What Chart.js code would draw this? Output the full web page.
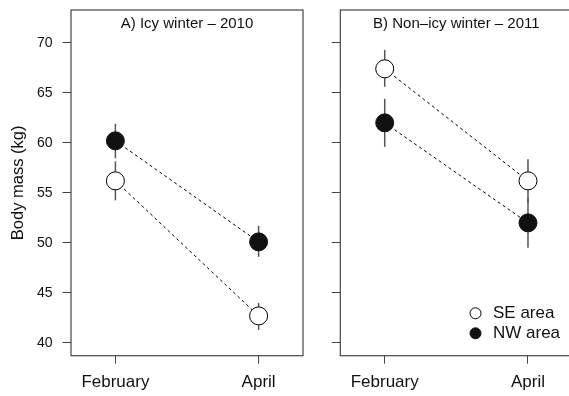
<!DOCTYPE html>
<html>
<head>
<meta charset="utf-8">
<script src="https://cdn.jsdelivr.net/npm/chart.js@4/dist/chart.umd.min.js"></script>
<style>
  html, body { margin: 0; padding: 0; background: #fff; width: 569px; height: 396px; overflow: hidden; }
  #wrapA { position: absolute; left: 0; top: 0; width: 320px; height: 396px; }
  #wrapB { position: absolute; left: 320px; top: 0; width: 280px; height: 396px; }
</style>
</head>
<body>
<div id="wrapA"><canvas id="chartA" width="320" height="396"></canvas></div>
<div id="wrapB"><canvas id="chartB" width="280" height="396"></canvas></div>
<script>
// ---- Data ----
const months = ['February', 'April'];
const yTicks = [40, 45, 50, 55, 60, 65, 70];
const panelTitles = ['A) Icy winter \u2013 2010', 'B) Non\u2013icy winter \u2013 2011'];
const seriesNames = ['SE area', 'NW area'];

// Panel A: Icy winter 2010
const seMean2010 = [56.2, 42.7];
const seLow2010  = [54.25, 41.3];
const seHigh2010 = [58.15, 44.0];
const nwMean2010 = [60.2, 50.1];
const nwLow2010  = [58.45, 48.6];
const nwHigh2010 = [61.9, 51.7];

// Panel B: Non-icy winter 2011
const seMean2011 = [67.4, 56.2];
const seLow2011  = [65.6, 54.0];
const seHigh2011 = [69.3, 58.35];
const nwMean2011 = [62.0, 52.0];
const nwLow2011  = [59.6, 49.5];
const nwHigh2011 = [64.4, 54.45];

const FONT = "'Liberation Sans', Arial, Helvetica, sans-serif";

function pts(arr) { return arr.map((v, i) => ({ x: i + 1, y: v })); }

function makeDatasets(seM, seL, seH, nwM, nwL, nwH) {
  return [
    { label: seriesNames[0], data: pts(seM), low: seL, high: seH,
      borderColor: '#000', borderWidth: 1, borderDash: [3, 3],
      pointRadius: 9, pointBorderWidth: 1, pointBackgroundColor: '#fff', pointBorderColor: '#000',
      pointHoverRadius: 9, fill: false, tension: 0 },
    { label: seriesNames[1], data: pts(nwM), low: nwL, high: nwH,
      borderColor: '#000', borderWidth: 1, borderDash: [3, 3],
      pointRadius: 9, pointBorderWidth: 1, pointBackgroundColor: '#111', pointBorderColor: '#111',
      pointHoverRadius: 9, fill: false, tension: 0 }
  ];
}

const errorBars = {
  id: 'errorBars',
  beforeDatasetsDraw(chart) {
    const { ctx, scales: { x, y } } = chart;
    ctx.save();
    ctx.strokeStyle = '#555';
    ctx.lineWidth = 1.5;
    chart.data.datasets.forEach(ds => {
      ds.data.forEach((p, i) => {
        const px = x.getPixelForValue(p.x);
        ctx.beginPath();
        ctx.moveTo(px, y.getPixelForValue(ds.low[i]));
        ctx.lineTo(px, y.getPixelForValue(ds.high[i]));
        ctx.stroke();
      });
    });
    ctx.restore();
  }
};

const boxAndTitle = {
  id: 'boxAndTitle',
  afterDraw(chart, args, opts) {
    const { ctx, chartArea: a } = chart;
    ctx.save();
    ctx.strokeStyle = '#444';
    ctx.lineWidth = 1.2;
    ctx.strokeRect(a.left, a.top, a.right - a.left, a.bottom - a.top);
    ctx.fillStyle = '#111';
    ctx.font = '15px ' + FONT;
    ctx.textAlign = 'center';
    ctx.textBaseline = 'middle';
    ctx.fillText(opts.text, (a.left + a.right) / 2, a.top + 14);
    if (opts.legend) {
      const lg = opts.legend;
      chart.data.datasets.forEach((ds, i) => {
        const cy = lg.y + i * 20;
        ctx.beginPath();
        ctx.arc(lg.x, cy, 5.5, 0, Math.PI * 2);
        ctx.fillStyle = ds.pointBackgroundColor;
        ctx.fill();
        ctx.strokeStyle = ds.pointBorderColor;
        ctx.lineWidth = 1;
        ctx.stroke();
        ctx.fillStyle = '#111';
        ctx.font = '17px ' + FONT;
        ctx.textAlign = 'left';
        ctx.fillText(ds.label, lg.x + 17.5, cy + 0.5);
      });
    }
    ctx.restore();
  }
};

function makeOptions(showY, yWidth, padRight, title, legend) {
  return {
    responsive: false,
    animation: false,
    devicePixelRatio: 1,
    layout: { padding: { top: 9.5, right: padRight, left: 0, bottom: 0 } },
    plugins: {
      legend: { display: false },
      tooltip: { enabled: false },
      boxAndTitle: { text: title, legend: legend }
    },
    scales: {
      x: {
        type: 'linear', min: 0.69, max: 2.31,
        afterBuildTicks: s => { s.ticks = months.map((m, i) => ({ value: i + 1 })); },
        afterFit: s => { s.height = 40.3; s.paddingLeft = 0; s.paddingRight = 0; },
        grid: { display: true, drawOnChartArea: false, drawTicks: true, tickLength: 8, color: '#444', lineWidth: 1 },
        border: { display: false },
        ticks: { color: '#111', font: { family: FONT, size: 17 }, padding: 8.6,
                 maxRotation: 0, autoSkip: false,
                 callback: v => months[Math.round(v) - 1] }
      },
      y: {
        type: 'linear', min: 38.72, max: 73.28,
        afterBuildTicks: s => { s.ticks = yTicks.map(v => ({ value: v })); },
        afterFit: s => { s.width = yWidth; s.paddingTop = 0; s.paddingBottom = 0; },
        grid: { display: true, drawOnChartArea: false, drawTicks: true, tickLength: 8.5, color: '#444', lineWidth: 1 },
        border: { display: false },
        ticks: { display: showY, color: '#111', font: { family: FONT, size: 14 }, padding: 10,
                 callback: v => String(v) },
        title: { display: showY, text: 'Body mass (kg)', color: '#111',
                 font: { family: FONT, size: 16.5 }, padding: { top: 8.4, bottom: 0 } }
      }
    }
  };
}

new Chart(document.getElementById('chartA'), {
  type: 'line',
  data: { datasets: makeDatasets(seMean2010, seLow2010, seHigh2010, nwMean2010, nwLow2010, nwHigh2010) },
  options: makeOptions(true, 71, 17, panelTitles[0], null),
  plugins: [errorBars, boxAndTitle]
});

new Chart(document.getElementById('chartB'), {
  type: 'line',
  data: { datasets: makeDatasets(seMean2011, seLow2011, seHigh2011, nwMean2011, nwLow2011, nwHigh2011) },
  options: makeOptions(false, 20.3, 27.6, panelTitles[1], { x: 155.5, y: 313.3 }),
  plugins: [errorBars, boxAndTitle]
});
</script>
</body>
</html>
